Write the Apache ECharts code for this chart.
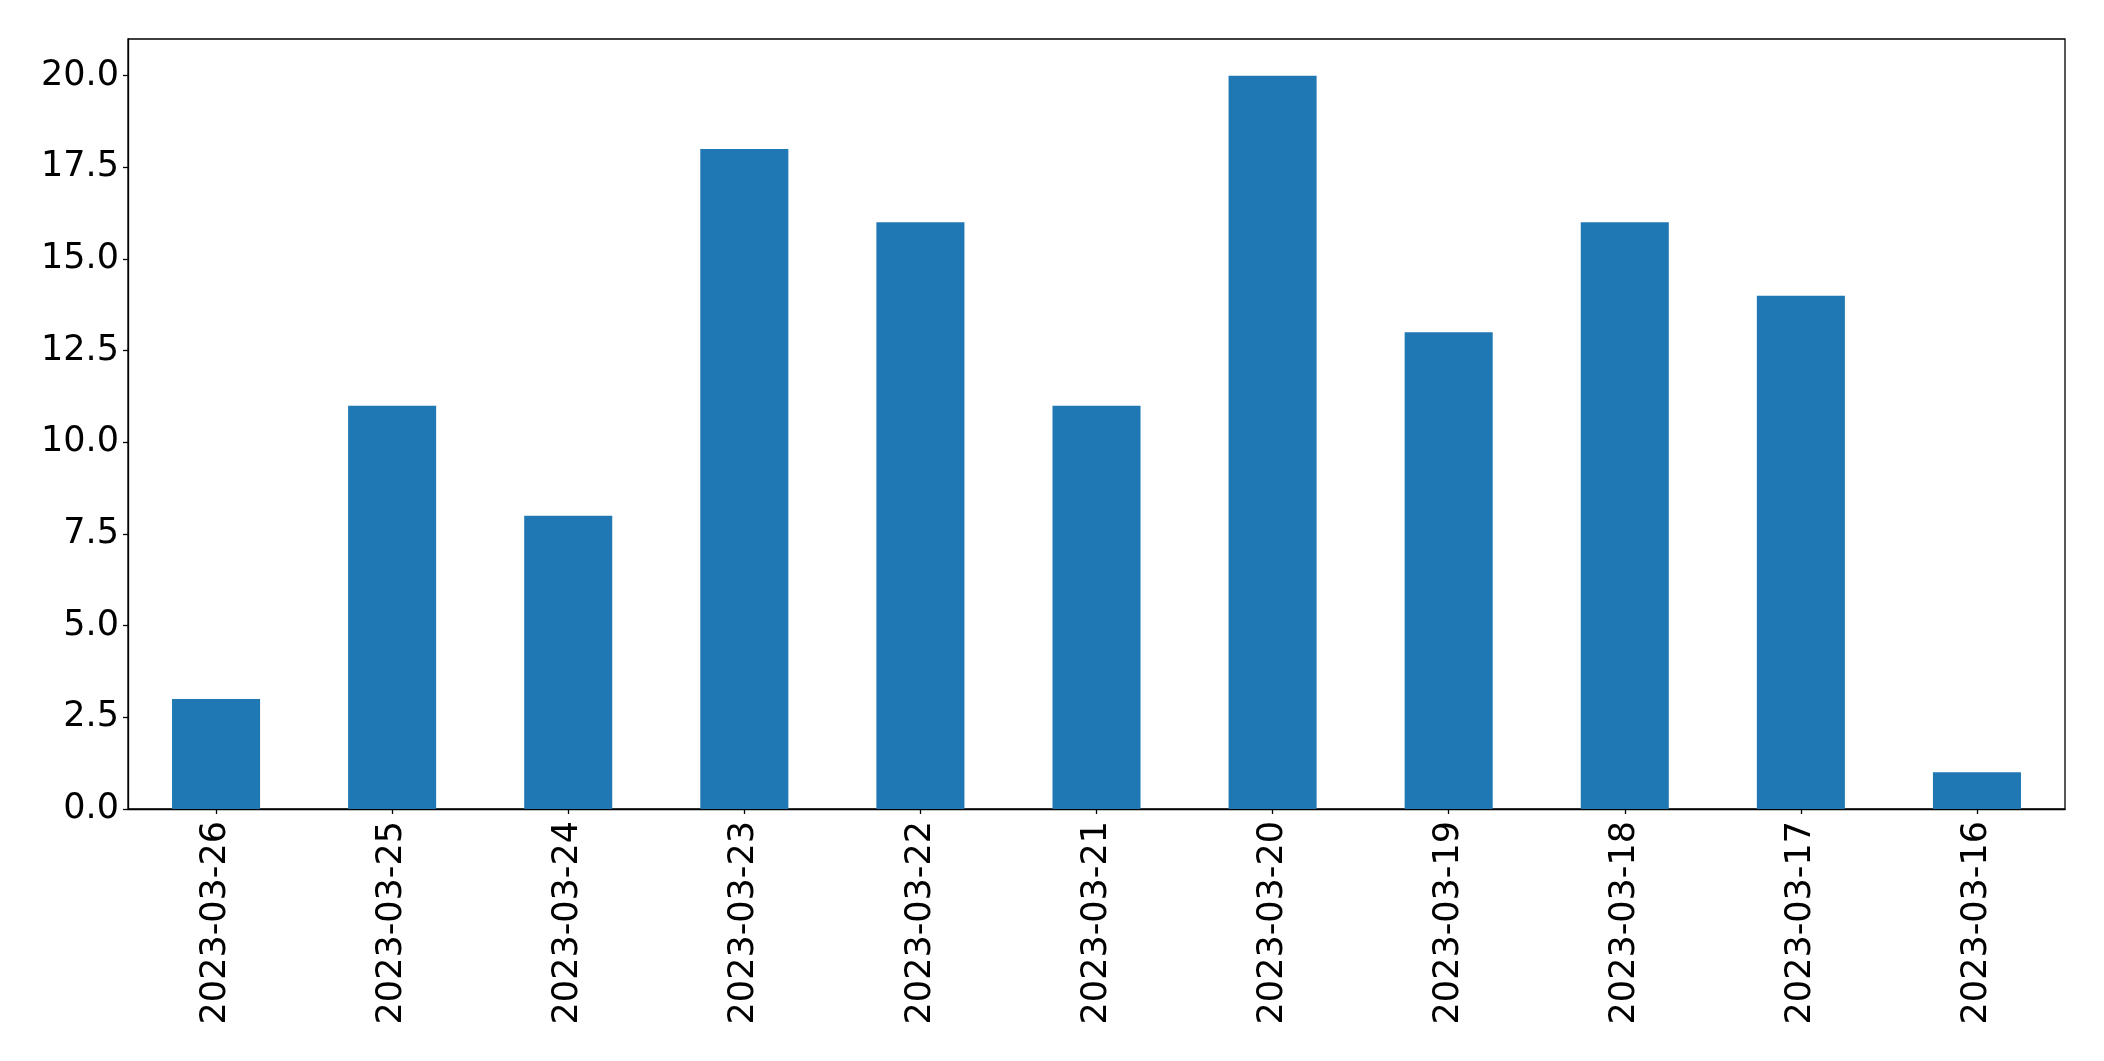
<!DOCTYPE html>
<html>
<head>
<meta charset="utf-8">
<script src="https://cdn.jsdelivr.net/npm/echarts@6/dist/echarts.min.js"></script>
<style>
html,body{margin:0;padding:0;background:#fff;}
#chart{width:2104px;height:1061px;}
</style>
</head>
<body>
<div id="chart"></div>
<script>
const categories = ['2023-03-26','2023-03-25','2023-03-24','2023-03-23','2023-03-22','2023-03-21','2023-03-20','2023-03-19','2023-03-18','2023-03-17','2023-03-16'];
const values = [3, 11, 8, 18, 16, 11, 20, 13, 16, 14, 1];
const yTicks = [0, 2.5, 5, 7.5, 10, 12.5, 15, 17.5, 20];

const chart = echarts.init(document.getElementById('chart'));
const font = 'DejaVu Sans';
chart.setOption({
  animation: false,
  grid: {left: 128, right: 39, top: 39, bottom: 252, show: true, borderColor: '#000', borderWidth: 1.3, backgroundColor: 'transparent'},
  xAxis: {
    type: 'category',
    data: categories,
    boundaryGap: true,
    axisLine: {show: true, lineStyle: {color: '#000', width: 1.3}},
    axisTick: {show: true, alignWithLabel: true, length: 5, lineStyle: {color: '#000', width: 1.3}},
    axisLabel: {rotate: 90, color: '#000', fontSize: 35, fontFamily: font, margin: 12, interval: 0}
  },
  yAxis: {
    type: 'value',
    min: 0,
    max: 21,
    interval: 2.5,
    splitLine: {show: false},
    axisLine: {show: true, lineStyle: {color: '#000', width: 1.3}},
    axisTick: {show: true, length: 5, lineStyle: {color: '#000', width: 1.3}, customValues: yTicks},
    axisLabel: {color: '#000', fontSize: 35, fontFamily: font, margin: 9, customValues: yTicks,
      formatter: v => v.toFixed(1)}
  },
  series: [{
    type: 'bar',
    data: values,
    barWidth: '50%',
    itemStyle: {color: '#1f77b4'}
  }]
});
</script>
</body>
</html>
